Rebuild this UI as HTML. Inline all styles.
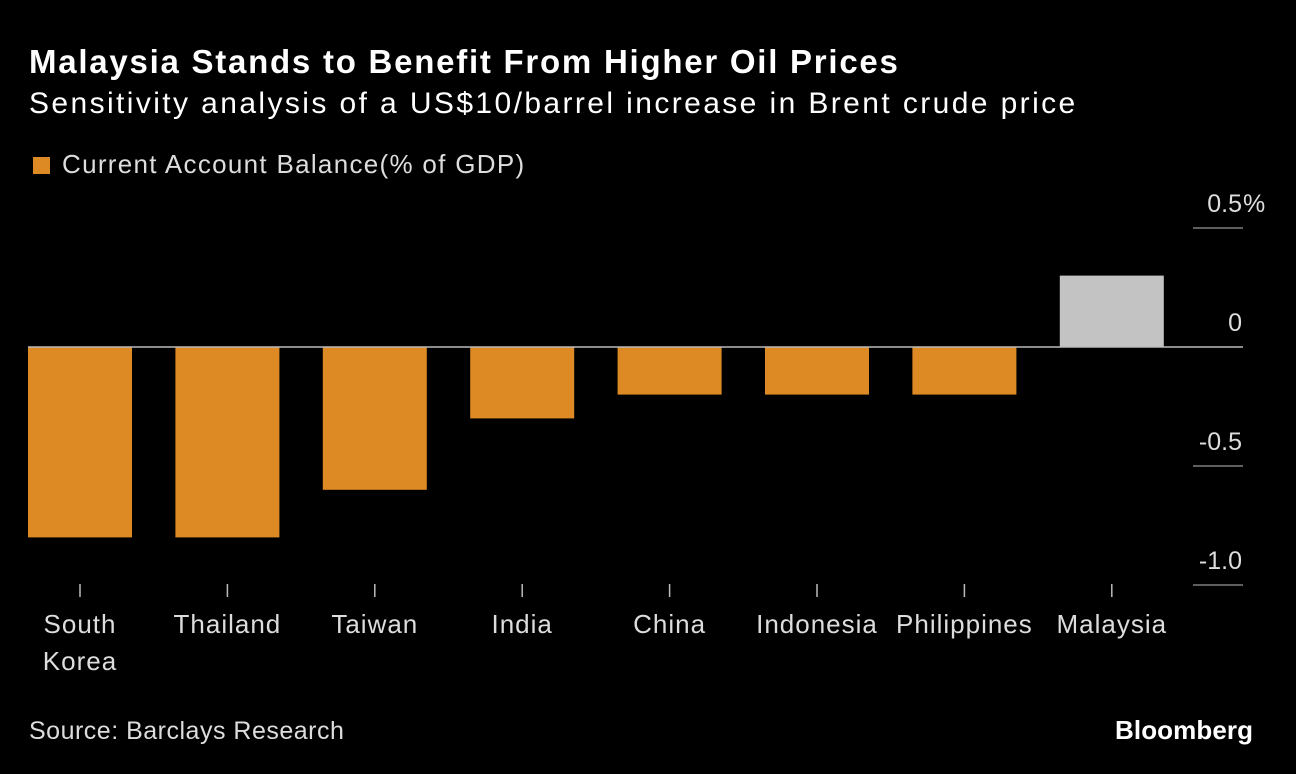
<!DOCTYPE html>
<html><head><meta charset="utf-8">
<style>
html,body{margin:0;padding:0;background:#000;}
body{width:1296px;height:774px;overflow:hidden;position:relative;font-family:"Liberation Sans",sans-serif;color:#fff;}
.t{position:absolute;white-space:nowrap;}
</style></head><body>
<div class="t" style="left:29px;top:43px;font-size:33px;font-weight:bold;letter-spacing:1.75px;">Malaysia Stands to Benefit From Higher Oil Prices</div>
<div class="t" style="left:29px;top:87px;font-size:30px;letter-spacing:2.4px;">Sensitivity analysis of a US$10/barrel increase in Brent crude price</div>
<div style="position:absolute;left:33px;top:157px;width:17px;height:17px;background:#de8a24;"></div>
<div class="t" style="left:62px;top:149px;font-size:26px;color:#ddd;letter-spacing:1.3px;">Current Account Balance(% of GDP)</div>
<svg id="chart" width="1296" height="774" style="position:absolute;left:0;top:0;"></svg>
<div class="t" style="left:29px;top:717px;font-size:25px;color:#ddd;letter-spacing:0.5px;">Source: Barclays Research</div>
<div class="t" style="left:1115px;top:715px;font-size:26px;font-weight:bold;letter-spacing:0.1px;">Bloomberg</div>
<script>
const categories=["South Korea","Thailand","Taiwan","India","China","Indonesia","Philippines","Malaysia"];
const values=[-0.8,-0.8,-0.6,-0.3,-0.2,-0.2,-0.2,0.3];
const tickValues=[0.5,0,-0.5,-1.0];
const tickLabels=["0.5","0","-0.5","-1.0"];
const NS="http://www.w3.org/2000/svg";
const svg=document.getElementById("chart");
function y(v){return 347-v*238;}
function xc(i){return 80+i*147.4;}
const bw=104;
function mk(tag,a){const e=document.createElementNS(NS,tag);for(const k in a)e.setAttribute(k,a[k]);svg.appendChild(e);return e;}
tickValues.forEach((v,i)=>{
 const l=mk("line",{x1:1193,x2:1243,y1:y(v),y2:y(v),stroke:"#bbb","stroke-width":1});
 
 
 const t=mk("text",{x:1242,y:y(v)-16,"text-anchor":"end",fill:"#ddd","font-size":25,"font-family":"Liberation Sans, sans-serif"});
 t.textContent=tickLabels[i];
 
 
 if(i===0){
  const p=mk("text",{x:1243,y:y(v)-16,fill:"#ddd","font-size":25,"font-family":"Liberation Sans, sans-serif"});
  p.textContent="%";
  
  
 }
});
values.forEach((v,i)=>{
 const top=Math.min(y(v),y(0)),h=Math.abs(y(v)-y(0));
 const r=mk("rect",{x:xc(i)-bw/2,y:top,width:bw,height:h,fill:v>=0?"#c3c3c3":"#de8a24"});
 
 
 const tk=mk("line",{x1:xc(i),x2:xc(i),y1:584,y2:597,stroke:"#bbb","stroke-width":1.5});
 
 
 const words=(categories[i]==="South Korea")?["South","Korea"]:[categories[i]];
 words.forEach((w,j)=>{
  const t=mk("text",{x:xc(i),y:633+j*37,"text-anchor":"middle",fill:"#ddd","font-size":26,"letter-spacing":1,"font-family":"Liberation Sans, sans-serif"});
  t.textContent=w;
  
  
 });
});
const z=mk("line",{x1:28,x2:1243,y1:y(0),y2:y(0),stroke:"#bbb","stroke-width":1.5});


</script>
</body></html>
